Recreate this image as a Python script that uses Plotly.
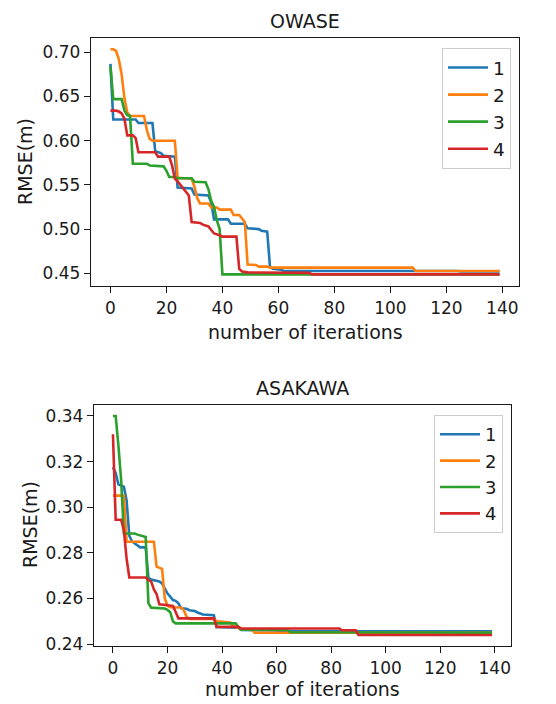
import plotly.graph_objects as go

# ---------------- data ----------------
series_names = ["1", "2", "3", "4"]
colors = ["#1f77b4", "#ff7f0e", "#2ca02c", "#d62728"]

# OWASE panel
owase_iter_1 = [0, 1, 9, 10, 15, 16, 18, 19, 23, 24, 29, 30, 35, 36, 37, 42, 43, 48, 49, 53, 54, 56, 57, 58, 61, 62, 124, 125, 139]
owase_rmse_1 = [0.687, 0.624, 0.624, 0.620, 0.620, 0.588, 0.586, 0.583, 0.582, 0.547, 0.546, 0.539, 0.538, 0.530, 0.511, 0.511, 0.506, 0.506, 0.501, 0.500, 0.498, 0.497, 0.457, 0.455, 0.454, 0.4525, 0.4525, 0.452, 0.452]

owase_iter_2 = [0, 1, 2, 3, 4, 5, 6, 7, 12, 13, 14, 15, 23, 24, 29, 30, 31, 32, 35, 36, 38, 39, 43, 44, 46, 47, 48, 49, 52, 53, 56, 57, 108, 109, 139]
owase_rmse_2 = [0.7034, 0.7034, 0.7015, 0.692, 0.675, 0.648, 0.632, 0.628, 0.628, 0.612, 0.602, 0.600, 0.600, 0.558, 0.557, 0.548, 0.535, 0.529, 0.529, 0.5245, 0.5245, 0.522, 0.522, 0.516, 0.516, 0.512, 0.508, 0.4600, 0.4594, 0.4575, 0.4575, 0.4564, 0.4564, 0.4526, 0.4526]

owase_iter_3 = [0, 1, 4, 5, 6, 7, 8, 13, 14, 19, 20, 21, 23, 24, 29, 30, 34, 35, 36, 37, 38, 39, 40, 139]
owase_rmse_3 = [0.684, 0.647, 0.647, 0.634, 0.629, 0.628, 0.574, 0.574, 0.572, 0.571, 0.566, 0.559, 0.559, 0.5575, 0.5575, 0.5536, 0.553, 0.545, 0.532, 0.525, 0.510, 0.500, 0.4488, 0.4488]

owase_iter_4 = [0, 2, 3, 4, 5, 6, 8, 9, 10, 16, 17, 21, 22, 23, 24, 25, 26, 27, 28, 29, 32, 33, 35, 36, 37, 39, 40, 45, 46, 47, 49, 71, 72, 139]
owase_rmse_4 = [0.634, 0.634, 0.633, 0.631, 0.625, 0.606, 0.606, 0.603, 0.587, 0.587, 0.582, 0.582, 0.572, 0.557, 0.554, 0.550, 0.547, 0.542, 0.538, 0.508, 0.507, 0.505, 0.503, 0.499, 0.495, 0.493, 0.4915, 0.4915, 0.455, 0.452, 0.451, 0.4505, 0.4488, 0.4488]

# ASAKAWA panel
asakawa_iter_1 = [0, 1, 2, 4, 5, 6, 7, 8, 9, 10, 12, 13, 14, 17, 18, 19, 20, 21, 22, 23, 24, 25, 27, 28, 30, 31, 33, 37, 38, 46, 47, 60, 61, 139]
asakawa_rmse_1 = [0.3175, 0.3150, 0.3100, 0.3090, 0.3030, 0.2875, 0.2850, 0.2842, 0.2835, 0.2824, 0.2824, 0.2690, 0.2683, 0.2675, 0.2666, 0.2644, 0.2622, 0.2608, 0.2593, 0.2590, 0.2579, 0.2557, 0.2555, 0.2549, 0.2545, 0.2539, 0.2530, 0.2527, 0.2475, 0.2472, 0.2462, 0.2460, 0.2456, 0.2456]

asakawa_iter_2 = [0, 4, 5, 15, 16, 18, 19, 20, 21, 25, 26, 27, 28, 37, 38, 43, 44, 46, 47, 51, 52, 139]
asakawa_rmse_2 = [0.3051, 0.3051, 0.2849, 0.2849, 0.2740, 0.2730, 0.2600, 0.2568, 0.2562, 0.2561, 0.2549, 0.2520, 0.2510, 0.2510, 0.2500, 0.2495, 0.2480, 0.2470, 0.2465, 0.2462, 0.2450, 0.2450]

asakawa_iter_3 = [0, 1, 2, 3, 4, 8, 9, 11, 12, 13, 14, 19, 20, 21, 22, 23, 45, 46, 47, 64, 65, 139]
asakawa_rmse_3 = [0.340, 0.340, 0.327, 0.312, 0.2885, 0.2885, 0.2880, 0.2875, 0.2870, 0.2580, 0.2560, 0.2556, 0.2550, 0.2540, 0.2500, 0.2491, 0.2491, 0.2475, 0.2463, 0.2463, 0.2452, 0.2450]

asakawa_iter_4 = [0, 1, 3, 4, 5, 6, 12, 13, 14, 15, 16, 17, 22, 23, 24, 37, 38, 46, 47, 83, 84, 89, 90, 139]
asakawa_rmse_4 = [0.332, 0.2945, 0.2945, 0.2900, 0.2775, 0.2692, 0.2692, 0.2681, 0.2675, 0.2640, 0.2620, 0.2575, 0.2568, 0.2540, 0.2513, 0.2513, 0.2476, 0.2476, 0.2469, 0.2469, 0.2461, 0.2461, 0.2440, 0.2440]

panel_titles = ["OWASE", "ASAKAWA"]
x_label = "number of iterations"
y_label = "RMSE(m)"
x_ticks = [0, 20, 40, 60, 80, 100, 120, 140]
owase_y_ticks = [0.45, 0.50, 0.55, 0.60, 0.65, 0.70]
asakawa_y_ticks = [0.24, 0.26, 0.28, 0.30, 0.32, 0.34]

# ---------------- figure ----------------
W, H = 556, 704
FONT = "DejaVu Sans"
INK = "#1a1a1a"
fig = go.Figure()

owase = [(owase_iter_1, owase_rmse_1), (owase_iter_2, owase_rmse_2),
         (owase_iter_3, owase_rmse_3), (owase_iter_4, owase_rmse_4)]
asakawa = [(asakawa_iter_1, asakawa_rmse_1), (asakawa_iter_2, asakawa_rmse_2),
           (asakawa_iter_3, asakawa_rmse_3), (asakawa_iter_4, asakawa_rmse_4)]

for i, (xs, ys) in enumerate(owase):
    fig.add_trace(go.Scatter(x=xs, y=ys, mode="lines", name=series_names[i],
                             line=dict(color=colors[i], width=2.6),
                             xaxis="x", yaxis="y", legend="legend"))
for i, (xs, ys) in enumerate(asakawa):
    fig.add_trace(go.Scatter(x=xs, y=ys, mode="lines", name=series_names[i],
                             line=dict(color=colors[i], width=2.6),
                             xaxis="x2", yaxis="y2", legend="legend2"))

def px_x(p):
    return p / W

def px_y(p):
    return 1 - p / H

# axes boxes in page pixels
top_box = dict(l=91, r=519, t=38, b=286)
bot_box = dict(l=94, r=511, t=405, b=646)

axis_common = dict(showline=True, mirror=True, linecolor=INK, linewidth=1.3,
                   ticks="outside", ticklen=6, tickwidth=1.2, tickcolor=INK,
                   showgrid=False, zeroline=False, automargin=False,
                   tickfont=dict(family=FONT, size=17, color=INK))

fig.update_layout(
    width=W, height=H,
    margin=dict(l=0, r=0, t=0, b=0, autoexpand=False),
    paper_bgcolor="white", plot_bgcolor="white",
    font=dict(family=FONT, color=INK),
    xaxis=dict(domain=[px_x(top_box["l"]), px_x(top_box["r"])], anchor="y",
               range=[-6.95, 145.95], tickvals=x_ticks, **axis_common),
    yaxis=dict(domain=[px_y(top_box["b"]), px_y(top_box["t"])], anchor="x",
               range=[0.4356, 0.7162], tickvals=owase_y_ticks, tickformat=".2f", **axis_common),
    xaxis2=dict(domain=[px_x(bot_box["l"]), px_x(bot_box["r"])], anchor="y2",
                range=[-6.95, 145.95], tickvals=x_ticks, **axis_common),
    yaxis2=dict(domain=[px_y(bot_box["b"]), px_y(bot_box["t"])], anchor="x2",
                range=[0.2392, 0.3448], tickvals=asakawa_y_ticks, tickformat=".2f", **axis_common),
    legend=dict(x=px_x(511), y=px_y(48), xanchor="right", yanchor="top",
                bgcolor="rgba(255,255,255,0.8)", bordercolor="#cccccc", borderwidth=1,
                itemwidth=40,
                font=dict(family=FONT, size=18.5, color=INK)),
    legend2=dict(x=px_x(503), y=px_y(415), xanchor="right", yanchor="top",
                 bgcolor="rgba(255,255,255,0.8)", bordercolor="#cccccc", borderwidth=1,
                 itemwidth=40,
                 font=dict(family=FONT, size=18, color=INK)),
    showlegend=True,
)

annotations = [
    dict(text=panel_titles[0], x=px_x(305), y=px_y(21), xanchor="center", yanchor="middle",
         font=dict(size=19)),
    dict(text=panel_titles[1], x=px_x(302.5), y=px_y(388), xanchor="center", yanchor="middle",
         font=dict(size=19)),
    dict(text=x_label, x=px_x(305), y=px_y(332), xanchor="center", yanchor="middle",
         font=dict(size=19)),
    dict(text=x_label, x=px_x(302.5), y=px_y(689), xanchor="center", yanchor="middle",
         font=dict(size=19)),
    dict(text=y_label, x=px_x(25), y=px_y(162), xanchor="center", yanchor="middle",
         textangle=-90, font=dict(size=19)),
    dict(text=y_label, x=px_x(30), y=px_y(525), xanchor="center", yanchor="middle",
         textangle=-90, font=dict(size=19)),
]
for a in annotations:
    a.update(xref="paper", yref="paper", showarrow=False)
    a["font"].update(family=FONT, color=INK)
fig.update_layout(annotations=annotations)

# the page body gets no default margin, so the 556x704 figure fills the window exactly
fig.write_html("out.html",
               config={"displayModeBar": False},
               post_script="document.body.style.margin='0px';document.body.style.overflow='hidden';")
